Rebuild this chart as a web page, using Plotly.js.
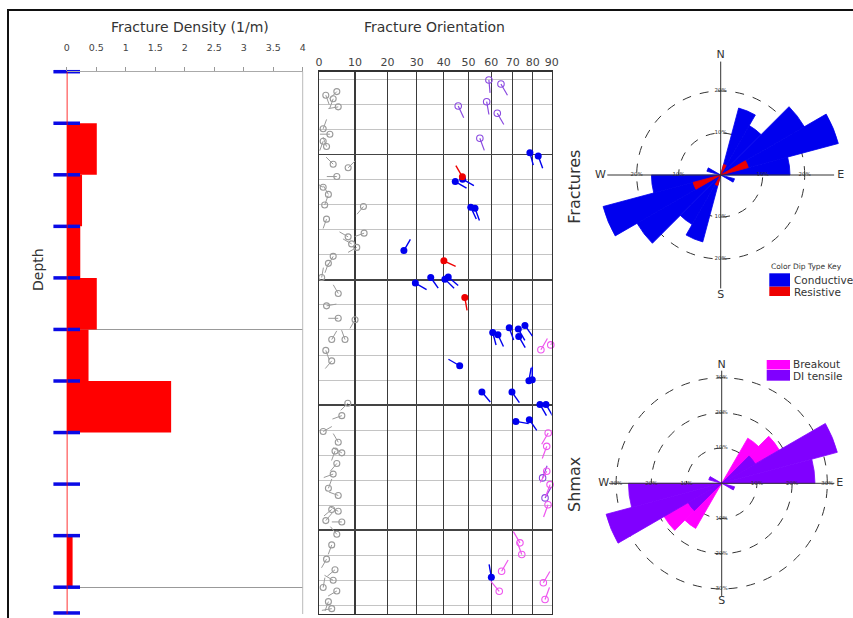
<!DOCTYPE html>
<html>
<head>
<meta charset="utf-8">
<script src="https://cdn.plot.ly/plotly-3.0.1.min.js"></script>
<style>html,body{margin:0;padding:0;background:#fff}</style>
</head>
<body>
<div id="chart" style="width:853px;height:618px"></div>
<script>
// ---- Fracture density per depth interval (1/m) ----
const densityTop = [0, 5, 10, 15, 20, 25, 30, 35, 40, 45, 50];
const densityBase = [5, 10, 15, 20, 25, 30, 35, 40, 45, 50, 52.5];
const fractureDensity = [0, 0.51, 0.26, 0.23, 0.51, 0.37, 1.77, 0, 0, 0.1, 0];
const densityTicks = [0, 0.5, 1, 1.5, 2, 2.5, 3, 3.5, 4];
const densityTickText = ['0', '0.5', '1', '1.5', '2', '2.5', '3', '3.5', '4'];
const zoneDepths = [25, 50];

// ---- Tadpoles: depth (m), dip (deg), dip azimuth (deg) ----
const dipTicks = [0, 10, 20, 30, 40, 50, 60, 70, 80, 90];

const minorDepth = [1.93,2.63,2.28,3.41,5.54,6.06,6.74,7.26,8.97,9.32,10.17,11.21,11.90,12.93,14.30,16.02,16.70,17.04,13.08,15.66,17.91,18.59,19.96,21.51,22.71,23.92,24.06,25.98,25.98,27.03,28.05,32.16,33.36,34.90,35.94,36.80,36.97,38.00,39.03,40.41,41.10,42.46,42.64,43.54,43.67,44.87,45.90,47.28,48.31,49.33,50.37,51.40,52.08,50.03];
const minorDip = [4.8,3.8,1.8,5.2,1.1,2.9,1.1,2.0,3.8,8.0,4.8,1.1,2.5,1.5,2.0,8.0,9.0,10.5,12.5,12.7,3.8,2.5,0.7,5.2,2.0,5.2,10.0,3.4,7.1,1.8,3.4,7.9,6.2,1.1,5.2,4.3,6.2,4.8,3.8,2.5,5.2,3.4,5.2,1.8,6.2,4.8,3.4,2.0,4.3,3.8,4.8,2.5,3.4,1.1];
const minorAzi = [225,200,160,260,20,270,200,340,315,45,270,300,330,20,200,300,300,240,220,250,210,200,10,330,80,270,210,30,340,160,220,225,250,60,330,200,300,220,250,20,290,230,300,40,270,320,200,210,230,300,240,200,260,10];

const conductiveDepth = [7.85,8.17,10.66,10.43,13.14,13.24,17.35,20.50,19.96,20.12,19.92,25.29,25.51,24.84,24.96,24.61,25.68,28.52,29.97,29.87,31.07,31.07,32.27,32.27,33.92,33.75,49.03];
const conductiveDip = [78.5,82.8,44.6,47.6,51.0,52.8,25.5,29.5,35.1,40.5,41.8,60.6,63.0,68.3,72.7,76.0,72.9,46.4,78.0,79.7,55.8,69.6,83.7,86.9,71.5,78.2,60.0];
const conductiveAzi = [165,160,120,120,155,160,30,120,145,135,130,165,155,160,150,145,150,300,10,0,140,145,150,150,100,145,350];

const resistiveDepth = [10.2, 18.34, 21.9];
const resistiveDip = [47.5, 40.1, 48.5];
const resistiveAzi = [330, 115, 170];

const tensileDepth = [0.80, 2.91, 1.19, 3.32, 4.03, 6.45, 41.34, 39.4];
const tensileDip = [58.9, 57.9, 64.4, 45.8, 62.7, 54.9, 86.4, 85.1];
const tensileAzi = [175, 170, 150, 155, 150, 160, 30, 20];

const breakoutDepth = [26.97, 26.5, 35.04, 36.34, 38.76, 40.05, 42.0, 45.7, 46.83, 48.45, 50.4, 49.57, 51.2];
const breakoutDip = [84.2, 89.5, 88.1, 87.3, 87.3, 89.1, 88.0, 73.5, 74.4, 64.7, 63.6, 85.5, 86.4];
const breakoutAzi = [30, 30, 210, 200, 210, 200, 200, 330, 340, 30, 320, 30, 20];

// ---- Rose diagrams: 15 degree strike bins (%), bidirectional ----
const roseBins = [7.5, 22.5, 37.5, 52.5, 67.5, 82.5, 97.5, 112.5, 127.5, 142.5, 157.5, 172.5];
const conductivePct = [0, 16.5, 13.6, 23, 29, 16.5, 0, 3.4, 0, 0, 0, 0];
const resistivePct = [0, 2.6, 0, 0, 6.8, 0, 0, 0, 0, 0, 0, 0];
const breakoutPct = [0, 0, 14.8, 18.9, 0, 0, 0, 0, 0, 0, 0, 0];
const tensilePct = [0, 0, 0, 11, 34, 26.5, 0, 3.8, 0, 0, 0, 0];

// ---- page geometry helpers (paper fractions from pixels) ----
const W = 853, H = 618;
const px = v => v / W;
const py = v => 1 - v / H;

const DEPTH_MAX = 52.6;
const DIP_OFFSET = 83;                 // dip axis is logarithmic in (dip + offset)
const dipX = d => d + DIP_OFFSET;
const DEPTH_PER_PX = DEPTH_MAX / 542.3;
const LOG_PER_PX = (Math.log10(90 + DIP_OFFSET) - Math.log10(DIP_OFFSET)) / 232.7;

const FONT = 'DejaVu Sans';

function tadpoles(depths, dips, azis, color, open, size, tailPx, tailWidth) {
  const tx = [], ty = [];
  depths.forEach((z, i) => {
    const a = azis[i] * Math.PI / 180;
    const x0 = dipX(dips[i]);
    tx.push(x0, x0 * Math.pow(10, LOG_PER_PX * tailPx * Math.sin(a)), null);
    ty.push(z, z - DEPTH_PER_PX * tailPx * Math.cos(a), null);
  });
  return [
    {type: 'scatter', mode: 'lines', x: tx, y: ty, xaxis: 'x2', yaxis: 'y2',
     line: {color: color, width: tailWidth}, hoverinfo: 'skip'},
    {type: 'scatter', mode: 'markers', x: dips.map(dipX), y: depths, xaxis: 'x2', yaxis: 'y2',
     cliponaxis: false,
     marker: {symbol: open ? 'circle-open' : 'circle', size: size, color: color,
              line: {color: color, width: open ? 1.1 : 0}}}
  ];
}

const mirrored = arr => arr.concat(arr);
const roseTheta = roseBins.concat(roseBins.map(b => b + 180));

const traces = [];

// density bars
traces.push({
  type: 'bar', orientation: 'h', xaxis: 'x', yaxis: 'y',
  x: fractureDensity,
  y: densityTop.map((t, i) => (t + densityBase[i]) / 2),
  width: densityTop.map((t, i) => densityBase[i] - t),
  marker: {color: '#ff0000', line: {width: 0}}, hoverinfo: 'x'
});
// interval boundaries
const boundaries = densityTop.concat([densityBase[densityBase.length - 1]]);
traces.push({
  type: 'scatter', mode: 'markers', xaxis: 'x', yaxis: 'y', cliponaxis: false,
  x: boundaries.map(() => 0), y: boundaries,
  marker: {symbol: 'line-ew', size: 19, line: {color: '#0a0ae6', width: 3.5}}, hoverinfo: 'y'
});

// tadpoles
traces.push(...tadpoles(minorDepth, minorDip, minorAzi, '#9a9a9a', true, 6, 10, 1));
traces.push(...tadpoles(tensileDepth, tensileDip, tensileAzi, '#8a4ae0', true, 6.5, 13, 1.2));
traces.push(...tadpoles(breakoutDepth, breakoutDip, breakoutAzi, '#ee55ee', true, 6.5, 13, 1.2));
traces.push(...tadpoles(conductiveDepth, conductiveDip, conductiveAzi, '#0000ee', false, 7, 13, 1.4));
traces.push(...tadpoles(resistiveDepth, resistiveDip, resistiveAzi, '#ee0000', false, 7, 13, 1.4));

// rose diagram helpers: compass axes, ring labels, letters
function roseFrame(subplot, axisR, letterR, rings) {
  const out = [];
  out.push({type: 'scatterpolar', subplot: subplot, mode: 'lines', r: [axisR, axisR, null, axisR, axisR],
    theta: [0, 180, null, 90, 270], line: {color: '#333', width: 1}, hoverinfo: 'skip'});
  const rr = [], tt = [], lab = [];
  rings.forEach(v => [0, 90, 180, 270].forEach(t => { rr.push(v); tt.push(t); lab.push(v + '%'); }));
  out.push({type: 'scatterpolar', subplot: subplot, mode: 'text', r: rr, theta: tt, text: lab,
    textfont: {family: FONT, size: 5.5, color: '#333'}, hoverinfo: 'skip'});
  out.push({type: 'scatterpolar', subplot: subplot, mode: 'text', r: [letterR, letterR, letterR, letterR],
    theta: [0, 90, 180, 270], text: ['N', 'E', 'S', 'W'], cliponaxis: false,
    textfont: {family: FONT, size: 11, color: '#333'}, hoverinfo: 'skip'});
  return out;
}

function petals(subplot, values, color, name) {
  return {type: 'barpolar', subplot: subplot, r: mirrored(values), theta: roseTheta, width: 15,
    marker: {color: color, line: {color: color, width: 0.8}}, name: name};
}

traces.push(...roseFrame('polar', 27, 28.6, [10, 20]));
traces.push(petals('polar', conductivePct, '#0000ee', 'Conductive'));
traces.push(petals('polar', resistivePct, '#ee0000', 'Resistive'));

traces.push(...roseFrame('polar2', 32, 33.5, [10, 20, 30]));
traces.push(petals('polar2', breakoutPct, '#ff00ff', 'Breakout'));
traces.push(petals('polar2', tensilePct, '#8000ff', 'DI tensile'));

function polarLayout(cx, cy, R, rmax, rings) {
  return {
    domain: {x: [px(cx - R), px(cx + R)], y: [py(cy + R), py(cy - R)]},
    bgcolor: 'rgba(0,0,0,0)', barmode: 'overlay',
    radialaxis: {range: [0, rmax], tickvals: rings, showticklabels: false, ticks: '', showline: false,
      gridcolor: '#333', griddash: 'dash', gridwidth: 1},
    angularaxis: {rotation: 90, direction: 'clockwise', showgrid: false, showline: false,
      showticklabels: false, ticks: ''}
  };
}

function ann(text, x, y, size, opts) {
  return Object.assign({text: text, x: px(x), y: py(y), xref: 'paper', yref: 'paper', showarrow: false,
    xanchor: 'center', yanchor: 'middle', font: {family: FONT, size: size, color: '#333'}}, opts || {});
}
function rect(x0, y0, x1, y1, color) {
  return {type: 'rect', xref: 'paper', yref: 'paper', x0: px(x0), x1: px(x1), y0: py(y1), y1: py(y0),
    fillcolor: color, line: {width: 0}};
}

const layout = {
  width: W, height: H, autosize: false,
  margin: {l: 0, r: 0, t: 0, b: 0, pad: 0},
  paper_bgcolor: '#fff', plot_bgcolor: '#fff',
  showlegend: false,
  font: {family: FONT, color: '#333'},
  xaxis: {domain: [px(66.7), px(302.7)], range: [0, 4], side: 'top', anchor: 'y',
    tickmode: 'array', tickvals: densityTicks, ticktext: densityTickText,
    ticks: 'outside', ticklen: 4, tickcolor: '#999', ticklabelstandoff: 12,
    showline: true, linecolor: '#aaa', linewidth: 1, showgrid: false, zeroline: false,
    tickfont: {family: FONT, size: 9.5, color: '#444'}, fixedrange: true},
  yaxis: {domain: [py(614), py(71.7)], range: [DEPTH_MAX, 0], anchor: 'x',
    tickmode: 'array', tickvals: zoneDepths, showticklabels: false, ticks: '',
    showgrid: true, gridcolor: '#999', gridwidth: 1, showline: false, zeroline: false, fixedrange: true},
  xaxis2: {domain: [px(319), px(551.7)], type: 'log',
    range: [Math.log10(DIP_OFFSET), Math.log10(90 + DIP_OFFSET)], side: 'top', anchor: 'y2',
    tickmode: 'array', tickvals: dipTicks.map(dipX), ticktext: dipTicks.map(String), ticks: '',
    showgrid: true, gridcolor: '#3a3a3a', gridwidth: 1.2, showline: true, mirror: true,
    linecolor: '#333', linewidth: 1.4, zeroline: false,
    tickfont: {family: FONT, size: 11, color: '#444'}, fixedrange: true},
  yaxis2: {domain: [py(614), py(71.7)], range: [DEPTH_MAX, 0], anchor: 'x2',
    tickmode: 'linear', tick0: 8.05, dtick: 12.14, showticklabels: false, ticks: '',
    showgrid: true, gridcolor: '#444', gridwidth: 1.6,
    minor: {tick0: 0.77, dtick: 2.428, showgrid: true, gridcolor: '#c4c4c4', gridwidth: 1, ticks: ''},
    showline: true, mirror: true, linecolor: '#333', linewidth: 1.4, zeroline: false, fixedrange: true},
  polar: polarLayout(720.7, 175, 126, 30, [10, 20]),
  polar2: polarLayout(721.7, 483.3, 123.2, 35, [10, 20, 30]),
  shapes: [
    // outer frame
    {type: 'rect', xref: 'paper', yref: 'paper', x0: px(8), x1: 1.05, y0: -0.05, y1: py(10),
     line: {color: '#111', width: 2}, fillcolor: 'rgba(0,0,0,0)'},
    // right edge of density track
    {type: 'line', xref: 'x domain', yref: 'y domain', x0: 1, x1: 1, y0: 0, y1: 1,
     line: {color: '#bbb', width: 1}},
    // zero line of density track
    {type: 'line', xref: 'x', yref: 'y domain', x0: 0, x1: 0, y0: 0, y1: 1,
     line: {color: '#ff0000', width: 1.6}},
    // legend swatches
    rect(769.3, 273.3, 790, 286.7, '#0000ee'),
    rect(769.3, 286.7, 790, 296, '#ee0000'),
    rect(766.7, 360, 790, 369.5, '#ff00ff'),
    rect(766.7, 370, 790, 380.7, '#8000ff')
  ],
  annotations: [
    ann('Fracture Density (1/m)', 190, 27, 14),
    ann('Fracture Orientation', 434, 27, 14),
    ann('Depth', 38, 270, 14, {textangle: -90}),
    ann('Fractures', 575, 186.7, 16, {textangle: -90}),
    ann('Shmax', 575, 485, 16, {textangle: -90}),
    ann('Color Dip Type Key', 769, 266, 7.5, {xanchor: 'left'}),
    ann('Conductive', 791.5, 279.5, 10.5, {xanchor: 'left'}),
    ann('Resistive', 791.5, 291.5, 10.5, {xanchor: 'left'}),
    ann('Breakout', 791, 364, 10.5, {xanchor: 'left'}),
    ann('DI tensile', 791, 376, 10.5, {xanchor: 'left'})
  ]
};

Plotly.newPlot('chart', traces, layout, {displayModeBar: false, staticPlot: true});
</script>
</body>
</html>
